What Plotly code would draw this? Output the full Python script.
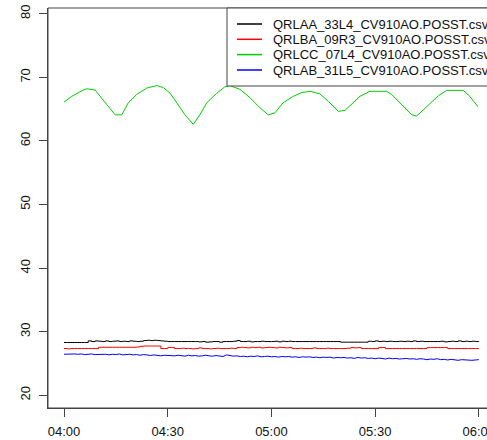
import pandas as pd
import plotly.graph_objects as go

# ---------------- data ----------------
series_names = [
    "QRLAA_33L4_CV910AO.POSST.csv",
    "QRLBA_09R3_CV910AO.POSST.csv",
    "QRLCC_07L4_CV910AO.POSST.csv",
    "QRLAB_31L5_CV910AO.POSST.csv",
]
series_colors = ["#000000", "#FF0000", "#00CD00", "#0000FF"]

start_time = "2024-01-01 04:00:00"
minutes_1 = list(range(0, 121))

black_vals = [
    28.3, 28.3, 28.3, 28.3, 28.3, 28.3, 28.3, 28.55, 28.45, 28.55,
    28.5, 28.45, 28.55, 28.45, 28.5, 28.55, 28.45, 28.5, 28.45, 28.55,
    28.5, 28.45, 28.5, 28.6, 28.65, 28.6, 28.65, 28.6, 28.55, 28.5,
    28.45, 28.45, 28.45, 28.45, 28.45, 28.45, 28.45, 28.45, 28.45, 28.4,
    28.45, 28.35, 28.4, 28.45, 28.45, 28.35, 28.45, 28.45, 28.45, 28.5,
    28.6, 28.45, 28.45, 28.5, 28.4, 28.45, 28.45, 28.5, 28.45, 28.45,
    28.45, 28.5, 28.4, 28.5, 28.45, 28.5, 28.45, 28.45, 28.45, 28.45,
    28.45, 28.45, 28.45, 28.45, 28.45, 28.45, 28.45, 28.45, 28.45, 28.45,
    28.35, 28.35, 28.35, 28.35, 28.35, 28.35, 28.35, 28.35, 28.5, 28.45,
    28.55, 28.45, 28.5, 28.45, 28.5, 28.45, 28.45, 28.5, 28.45, 28.5,
    28.45, 28.55, 28.45, 28.5, 28.45, 28.45, 28.45, 28.45, 28.45, 28.5,
    28.4, 28.45, 28.5, 28.45, 28.55, 28.45, 28.5, 28.45, 28.5, 28.45,
    28.5,
]

red_vals = [
    27.35, 27.3, 27.35, 27.35, 27.35, 27.35, 27.35, 27.35, 27.35, 27.35,
    27.55, 27.55, 27.55, 27.55, 27.55, 27.55, 27.55, 27.55, 27.55, 27.55,
    27.55, 27.6, 27.7, 27.75, 27.75, 27.75, 27.75, 27.75, 27.35, 27.35,
    27.5, 27.5, 27.35, 27.35, 27.4, 27.35, 27.35, 27.3, 27.35, 27.45,
    27.35, 27.35, 27.3, 27.35, 27.4, 27.35, 27.35, 27.35, 27.4, 27.35,
    27.5, 27.55, 27.5, 27.45, 27.55, 27.5, 27.55, 27.45, 27.5, 27.55,
    27.5, 27.45, 27.55, 27.5, 27.45, 27.5, 27.35, 27.35, 27.4, 27.35,
    27.35, 27.35, 27.45, 27.35, 27.35, 27.35, 27.4, 27.35, 27.35, 27.35,
    27.35, 27.35, 27.4, 27.5, 27.45, 27.5, 27.35, 27.35, 27.35, 27.35,
    27.35, 27.5, 27.5, 27.35, 27.35, 27.35, 27.35, 27.35, 27.35, 27.35,
    27.35, 27.35, 27.35, 27.35, 27.35, 27.5, 27.5, 27.5, 27.5, 27.5,
    27.5, 27.35, 27.35, 27.35, 27.35, 27.35, 27.35, 27.35, 27.35, 27.35,
    27.35,
]

blue_vals = [
    26.45, 26.5, 26.55, 26.5, 26.45, 26.5, 26.4, 26.45, 26.5, 26.4,
    26.45, 26.4, 26.45, 26.35, 26.45, 26.4, 26.5, 26.35, 26.4, 26.45,
    26.35, 26.4, 26.3, 26.4, 26.35, 26.25, 26.35, 26.3, 26.2, 26.3,
    26.25, 26.3, 26.2, 26.3, 26.25, 26.15, 26.3, 26.2, 26.25, 26.15,
    26.2, 26.3, 26.2, 26.15, 26.25, 26.2, 26.1, 26.35, 26.2, 26.15,
    26.2, 26.1, 26.15, 26.05, 26.15, 26.1, 26.2, 26.05, 26.1, 26.15,
    26.05, 26.1, 26.0, 26.1, 26.05, 26.1, 26.0, 26.05, 25.95, 26.05,
    26.0, 26.05, 25.95, 26.0, 25.9, 26.0, 25.95, 26.0, 25.85, 25.95,
    25.9, 25.95, 25.85, 25.9, 25.8, 25.95, 25.85, 25.9, 25.8, 25.85,
    25.75, 25.85, 25.8, 25.7, 25.85, 25.75, 25.8, 25.7, 25.75, 25.8,
    25.7, 25.75, 25.65, 25.75, 25.7, 25.6, 25.7, 25.65, 25.75, 25.6,
    25.65, 25.55, 25.65, 25.6, 25.5, 25.6, 25.55, 25.6, 25.5, 25.55,
    25.6,
]

green_minutes = [
    0, 2.2, 5.6, 6.6, 9.0, 10.4, 12.4, 14.8, 16.7, 18.6,
    21.0, 23.9, 26.8, 28.7, 30.7, 32.6, 35.0, 37.4, 39.3, 41.3,
    44.2, 46.5, 48.0, 50.9, 53.8, 56.7, 59.1, 61.0, 63.4, 66.3,
    68.7, 71.2, 74.0, 76.5, 79.4, 81.3, 83.7, 85.6, 88.5, 93.3,
    94.8, 97.2, 99.6, 100.6, 102.0, 103.5, 105.9, 108.3, 110.7, 115.5,
    117.4, 119.8,
]
green_vals = [
    66.1, 67.0, 68.0, 68.2, 68.0, 67.0, 65.7, 64.1, 64.1, 66.0,
    67.3, 68.3, 68.7, 68.4, 67.5, 66.0, 64.1, 62.6, 64.1, 66.0,
    67.5, 68.5, 68.7, 68.1, 66.8, 65.2, 64.1, 64.4, 66.0, 67.0,
    67.6, 67.8, 67.4, 66.2, 64.65, 64.8, 66.0, 67.0, 67.8, 67.8,
    67.3, 66.0, 64.65, 64.1, 63.9, 64.65, 66.0, 67.1, 67.95, 67.95,
    67.0, 65.35,
]

x_tick_minutes = [0, 30, 60, 90, 120]
x_tick_labels = ["04:00", "04:30", "05:00", "05:30", "06:00"]
y_tick_vals = [20, 30, 40, 50, 60, 70, 80]

# ---------------- build ----------------
t0 = pd.Timestamp(start_time)
def to_time(mins):
    return [t0 + pd.Timedelta(minutes=m) for m in mins]

FONT = "Liberation Sans, Arial, sans-serif"
AX = "#444444"

fig = go.Figure()
series = [
    (minutes_1, black_vals, "hv"),
    (minutes_1, red_vals, "hv"),
    (green_minutes, green_vals, "linear"),
    (minutes_1, blue_vals, "linear"),
]
for (mins, vals, shape), name, col in zip(series, series_names, series_colors):
    fig.add_trace(go.Scatter(
        x=to_time(mins), y=vals, mode="lines", name=name,
        line=dict(color=col, width=1, shape=shape), showlegend=False,
    ))

W, H = 487, 440
ml, mr, mt, mb = 48, 0, 8, 32
pw, ph = W - ml - mr, H - mt - mb

def px_x(p):
    return (p - ml) / pw
def px_y(p):
    return (H - mb - p) / ph

# x range: 04:00 at px 64, 30 min = 103.7 px
ppm = 103.7 / 30.0
x_lo = t0 - pd.Timedelta(minutes=(64 - ml) / ppm)
x_hi = t0 + pd.Timedelta(minutes=(W - 64) / ppm)

fig.update_layout(
    width=W, height=H,
    margin=dict(l=ml, r=mr, t=mt, b=mb, pad=0, autoexpand=False),
    paper_bgcolor="white", plot_bgcolor="white",
    font=dict(family=FONT, size=13, color="#000000"),
    xaxis=dict(
        type="date", range=[x_lo, x_hi], automargin=False,
        tickvals=to_time(x_tick_minutes), ticktext=x_tick_labels,
        showgrid=False, zeroline=False, showline=True, linecolor=AX, linewidth=1,
        ticks="outside", ticklen=8, tickcolor=AX, tickwidth=1,
        ticklabelstandoff=3, ticklabeloverflow="allow",
        tickfont=dict(size=13, color="#111111"),
    ),
    yaxis=dict(
        range=[18.0, 80.9], tickvals=y_tick_vals, automargin=False,
        showgrid=False, zeroline=False, showline=True, linecolor=AX, linewidth=1,
        ticks="outside", ticklen=8, tickcolor=AX, tickwidth=1,
        ticklabelstandoff=4, ticklabeloverflow="allow",
        tickangle=-90, tickfont=dict(size=13, color="#111111"),
    ),
)

# plot box (right edge falls outside the image, as in the reference)
fig.add_shape(type="rect", xref="paper", yref="paper", x0=0, x1=1.05, y0=0, y1=1,
              line=dict(color=AX, width=1), fillcolor="rgba(0,0,0,0)")

# legend box
leg_x0 = px_x(227)
fig.add_shape(type="rect", xref="paper", yref="paper", x0=leg_x0, x1=1.2,
              y0=px_y(86), y1=1.0, line=dict(color=AX, width=1), fillcolor="white")
leg_rows = [24, 39.3, 54.6, 70]
for name, col, ry in zip(series_names, series_colors, leg_rows):
    fig.add_shape(type="line", xref="paper", yref="paper",
                  x0=px_x(237), x1=px_x(262), y0=px_y(ry), y1=px_y(ry),
                  line=dict(color=col, width=1.5))
    fig.add_annotation(xref="paper", yref="paper", x=px_x(271), y=px_y(ry),
                       xanchor="left", yanchor="middle", text=name, showarrow=False,
                       font=dict(family=FONT, size=13, color="#111111"))

fig.write_html("out.html")
